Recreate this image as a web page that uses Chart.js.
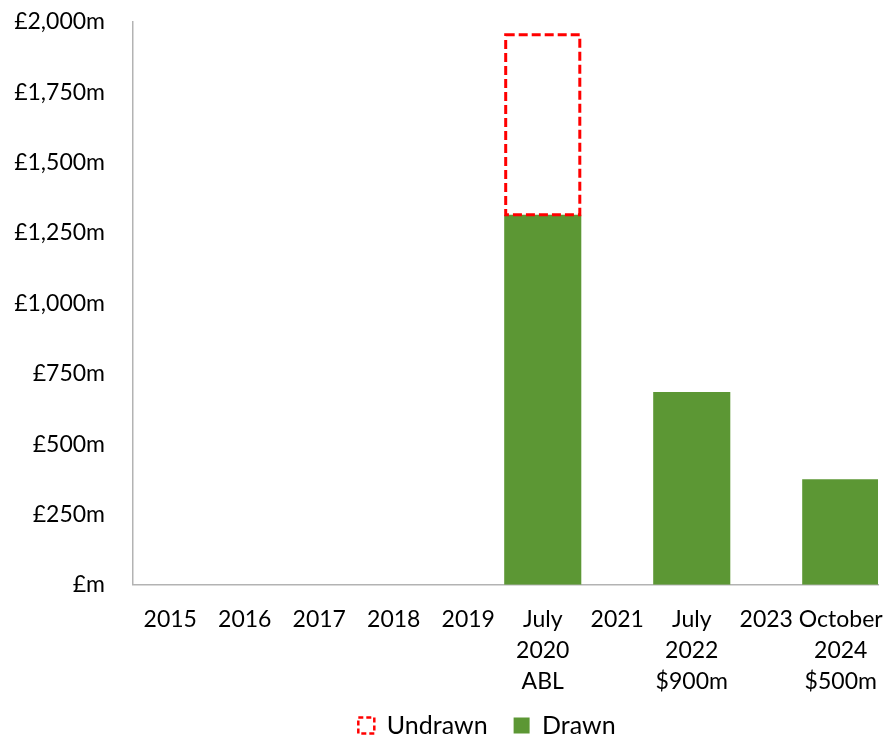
<!DOCTYPE html>
<html>
<head>
<meta charset="utf-8">
<script src="https://cdn.jsdelivr.net/npm/chart.js@4/dist/chart.umd.min.js"></script>
<style>
  html, body { margin:0; padding:0; background:#fff; }
  #wrap { width:888px; height:738px; }
</style>
</head>
<body>
<div id="wrap"><canvas id="facilities" width="888" height="738"></canvas></div>
<script>
// facility maturities, £m
const categories = [
  ['2015'], ['2016'], ['2017'], ['2018'], ['2019'],
  ['July', '2020', 'ABL'], ['2021'], ['July', '2022', '$900m'], ['2023'], ['October', '2024', '$500m']
];
const drawnValues   = [0, 0, 0, 0, 0, 1315, 0, 685, 0, 375];
const undrawnValues = [0, 0, 0, 0, 0, 645, 0, 0, 0, 0];
const yMax = 2000, yStep = 250;

const GREEN = '#5c9734';
const RED = '#ff0000';
const AXIS = '#b3b3b3';
const FONT = 'Lato, "Open Sans", sans-serif';

// bars can't take a dashed border, so stroke the outline ourselves
const dashedOutline = {
  id: 'dashedOutline',
  afterDatasetsDraw(chart){
    const ctx = chart.ctx;
    chart.data.datasets.forEach((ds, i) => {
      if(!ds.dashed) return;
      const meta = chart.getDatasetMeta(i);
      meta.data.forEach((bar, j) => {
        if(!ds.data[j]) return;
        const p = bar.getProps(['x','y','base','width'], true);
        ctx.save();
        ctx.strokeStyle = RED;
        ctx.lineWidth = 3;
        ctx.setLineDash([9, 4]);
        ctx.strokeRect(p.x - p.width/2 + 1.5, p.y + 1.5, p.width - 3, p.base - p.y - 1.5);
        ctx.restore();
      });
    });
  }
};

// legend sits a bit right of centre and tucked up under the axis labels
const legendNudge = {
  id: 'legendNudge',
  afterLayout(chart){
    const lg = chart.legend;
    const dy = 687 - lg.top;
    lg.top += dy; lg.bottom += dy;
    lg.left += 48; lg.right += 48;
  }
};

const chart = new Chart(document.getElementById('facilities'), {
  type: 'bar',
  data: {
    labels: categories,
    datasets: [
      { label: 'Drawn', data: drawnValues, backgroundColor: GREEN, borderWidth: 0 },
      { label: 'Undrawn', data: undrawnValues, backgroundColor: 'rgba(0,0,0,0)', borderWidth: 0, dashed: true }
    ]
  },
  options: {
    responsive: false,
    animation: false,
    layout: { padding: { left: 0, right: 10, top: 22, bottom: -39 } },
    datasets: { bar: { categoryPercentage: 1, barPercentage: 1.035 } },
    scales: {
      x: {
        stacked: true,
        afterFit(scale){ scale.paddingLeft = 0; scale.paddingRight = 0; },
        grid: { display: false, drawTicks: false },
        border: { display: true, color: AXIS, width: 1.5 },
        ticks: { color: '#000', font: { family: FONT, size: 23, lineHeight: 1.35 }, padding: 19, maxRotation: 0, autoSkip: false }
      },
      y: {
        stacked: true,
        min: 0, max: yMax,
        afterFit(scale){ scale.width = 133; scale.paddingTop = 0; scale.paddingBottom = 0; },
        grid: { display: false, drawTicks: false },
        border: { display: true, color: AXIS, width: 1.5 },
        ticks: {
          stepSize: yStep, color: '#000', padding: 28,
          font: { family: FONT, size: 23 },
          callback: v => v === 0 ? '£m' : '£' + v.toLocaleString('en-GB') + 'm'
        }
      }
    },
    plugins: {
      tooltip: { enabled: false },
      legend: {
        position: 'bottom',
        reverse: true,
        labels: {
          color: '#000', font: { family: FONT, size: 25 }, boxWidth: 16, boxHeight: 16, padding: 26,
          generateLabels(c){
            const items = Chart.defaults.plugins.legend.labels.generateLabels(c);
            items.forEach(it => {
              if(it.text === 'Undrawn'){
                it.fillStyle = '#fff'; it.strokeStyle = RED; it.lineWidth = 2.5; it.lineDash = [5, 3];
              } else {
                it.lineWidth = 0;
              }
            });
            return items;
          }
        }
      }
    }
  },
  plugins: [dashedOutline, legendNudge]
});
</script>
</body>
</html>
